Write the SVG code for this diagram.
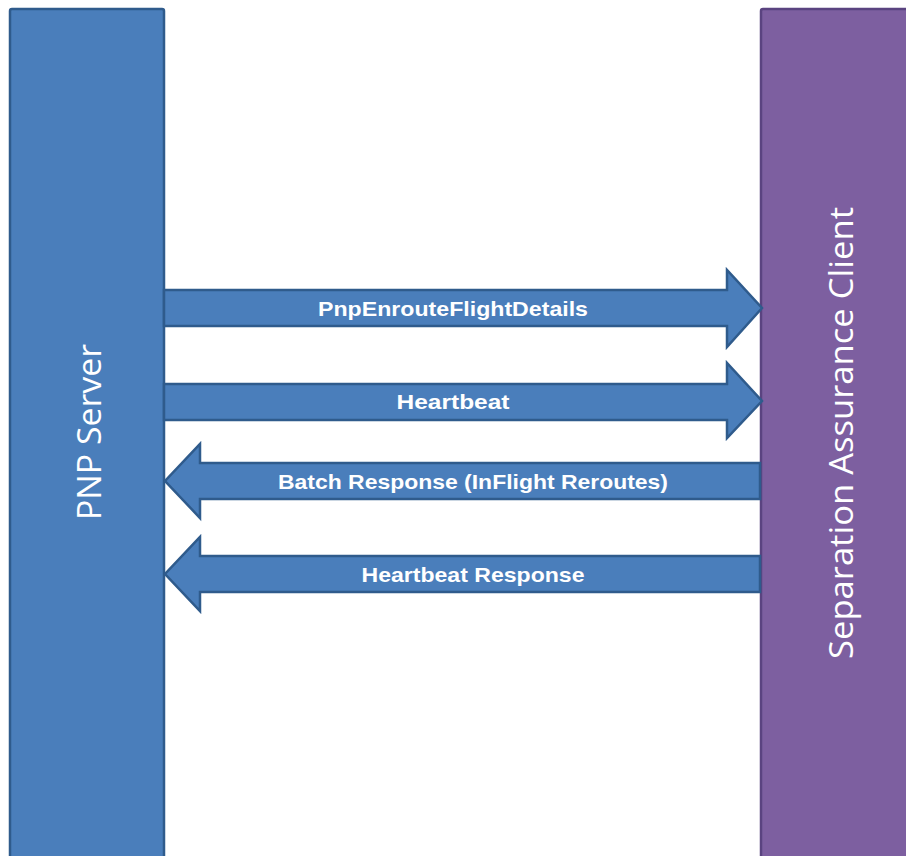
<svg xmlns="http://www.w3.org/2000/svg" width="906" height="856" viewBox="0 0 906 856">
<style>
.blue{fill:#4a7ebb;stroke:#2f5b8c;stroke-width:2.5}
.purple{fill:#7d5fa0;stroke:#5a4380;stroke-width:2.5}
.arr{fill:#4a7ebb;stroke:#2f5b8c;stroke-width:2.5;stroke-linejoin:miter}
.lbl{font-family:"Liberation Sans",Arial,sans-serif;font-weight:bold;font-size:21px;fill:#ffffff;text-anchor:middle;dominant-baseline:central}
.big{font-family:"Open Sans","Liberation Sans",sans-serif;font-size:33px;fill:#ffffff;text-anchor:middle;dominant-baseline:central}
</style>
<rect width="906" height="856" fill="#ffffff"/>
<g id="pnp-server">
<rect class="blue" x="10" y="9" width="154" height="860" rx="2"/>
<text class="big" transform="translate(88,432) rotate(-90)" textLength="176" lengthAdjust="spacingAndGlyphs">PNP Server</text>
</g>
<g id="sa-client">
<rect class="purple" x="761" y="9" width="160" height="860" rx="2"/>
<text class="big" transform="translate(840,433) rotate(-90)" textLength="452" lengthAdjust="spacingAndGlyphs">Separation Assurance Client</text>
</g>
<g id="connectors">
<g id="msg1">
<polygon class="arr" points="164,290 727,290 727,270 762,308 727,347 727,326 164,326"/>
<text class="lbl" x="453" y="308" textLength="270" lengthAdjust="spacingAndGlyphs">PnpEnrouteFlightDetails</text>
</g>
<g id="msg2">
<polygon class="arr" points="164,384 727,384 727,363 762,401 727,438 727,420 164,420"/>
<text class="lbl" x="453" y="401" textLength="113" lengthAdjust="spacingAndGlyphs">Heartbeat</text>
</g>
<g id="msg3">
<polygon class="arr" points="760,463 200,463 200,444 165,481 200,518 200,499 760,499"/>
<text class="lbl" x="473" y="481" textLength="390" lengthAdjust="spacingAndGlyphs">Batch Response  (InFlight Reroutes)</text>
</g>
<g id="msg4">
<polygon class="arr" points="760,556 200,556 200,537 165,574 200,611 200,592 760,592"/>
<text class="lbl" x="473" y="574" textLength="223" lengthAdjust="spacingAndGlyphs">Heartbeat Response</text>
</g>
</g>
</svg>
